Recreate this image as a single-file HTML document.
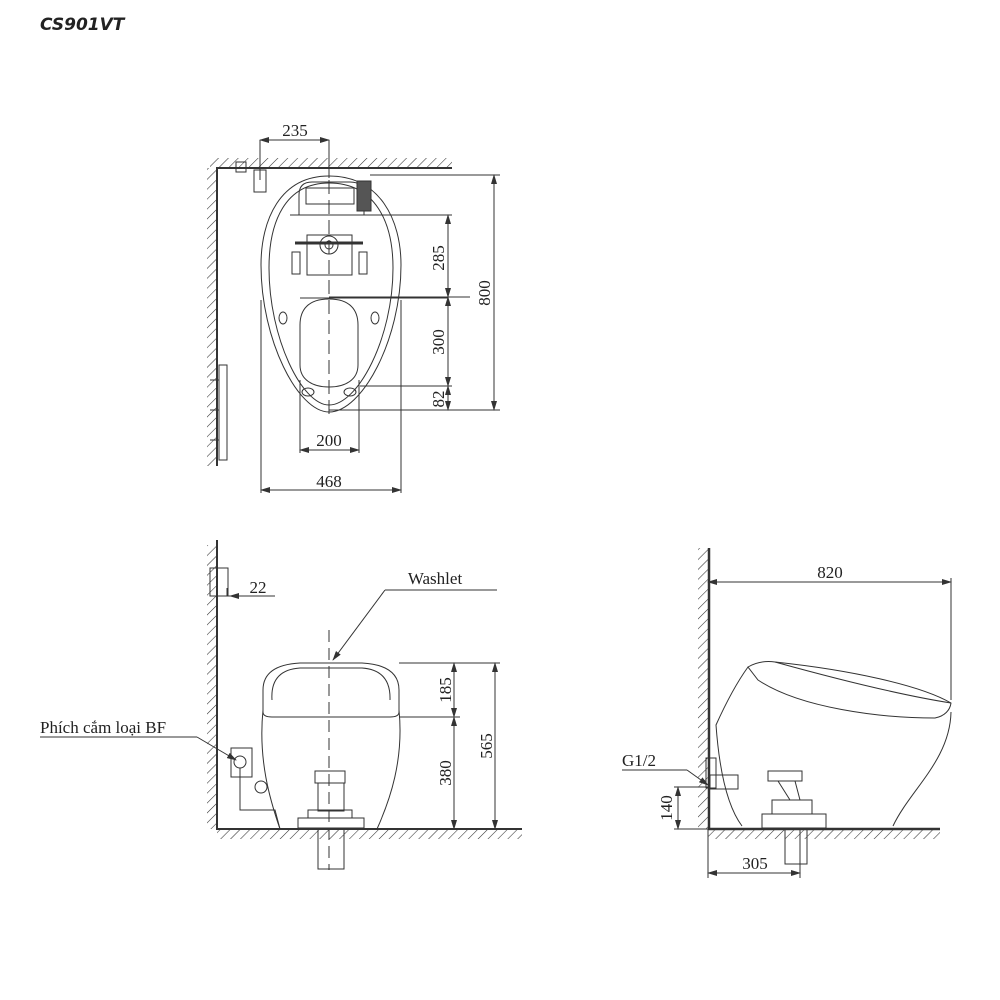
<!DOCTYPE html>
<html><head><meta charset="utf-8"><style>
body{margin:0;background:#fff;}
svg{display:block;}
text{font-family:"Liberation Serif",serif;fill:#222;}
</style></head><body>
<svg width="1000" height="1000" viewBox="0 0 1000 1000" xmlns="http://www.w3.org/2000/svg">
<defs>
<pattern id="h" width="7" height="7" patternUnits="userSpaceOnUse" patternTransform="rotate(45)">
<line x1="0" y1="0" x2="0" y2="7" stroke="#333" stroke-width="1.1"/></pattern>
<marker id="a" markerWidth="10" markerHeight="6" refX="9" refY="3" orient="auto-start-reverse" markerUnits="userSpaceOnUse"><path d="M0,0 L10,3 L0,6z" fill="#333"/></marker>
</defs>
<text x="40" y="30" style="font-family:'DejaVu Sans',sans-serif;font-weight:bold;font-style:italic;font-size:17px">CS901VT</text>

<g stroke="#333" fill="none" stroke-width="1">
<!-- TOP VIEW -->
<rect x="210" y="158" width="242" height="9" fill="url(#h)" stroke="none"/>
<rect x="207" y="168" width="10" height="298" fill="url(#h)" stroke="none"/>
<path d="M452,168 H217 V466" stroke-width="2"/>
<path d="M329,176 C280,176 261,220 261,265 C261,340 298,412 329,412 C362,412 401,340 401,265 C401,220 380,176 329,176Z"/>
<path d="M329,183 C285,183 269,222 269,268 C269,338 302,405 329,405 C358,405 393,338 393,268 C393,222 375,183 329,183Z"/>
<path d="M299,215 V195 Q299,182 312,182 H350 Q364,182 364,195 V215"/>
<rect x="306" y="188" width="48" height="16"/>
<rect x="357" y="181" width="14" height="30" fill="#555"/>
<path d="M290,215 H372"/>
<rect x="307" y="235" width="45" height="40"/>
<circle cx="329" cy="245" r="9"/><circle cx="329" cy="245" r="4"/>
<rect x="292" y="252" width="8" height="22"/><rect x="359" y="252" width="8" height="22"/>
<path d="M295,243 H363" stroke-width="3"/>
<path d="M300,298 H448"/>
<path d="M329,299 C350,299 358,310 358,325 V365 C358,380 345,387 329,387 C313,387 300,380 300,365 V325 C300,310 308,299 329,299Z"/>
<ellipse cx="283" cy="318" rx="4" ry="6"/><ellipse cx="375" cy="318" rx="4" ry="6"/>
<ellipse cx="308" cy="392" rx="6" ry="4"/><ellipse cx="350" cy="392" rx="6" ry="4"/>
<path d="M329,140 V420" stroke-dasharray="14,6"/>
<rect x="254" y="170" width="12" height="22"/><rect x="236" y="162" width="10" height="10"/>
<rect x="219" y="365" width="8" height="95"/><path d="M210,380 H219 M210,410 H219 M210,440 H219"/>
<!-- dims -->
<path d="M260,140 V180 M329,140 V178"/>
<line x1="260" y1="140" x2="329" y2="140" marker-start="url(#a)" marker-end="url(#a)"/>
<path d="M370,175 H500 M372,215 H452 M329,297 H470 M360,386 H452 M329,410 H500"/>
<line x1="494" y1="175" x2="494" y2="410" marker-start="url(#a)" marker-end="url(#a)"/>
<line x1="448" y1="215" x2="448" y2="297" marker-start="url(#a)" marker-end="url(#a)"/>
<line x1="448" y1="297" x2="448" y2="386" marker-start="url(#a)" marker-end="url(#a)"/>
<line x1="448" y1="386" x2="448" y2="410" marker-start="url(#a)" marker-end="url(#a)"/>
<path d="M300,380 V453 M359,380 V453 M261,300 V493 M401,300 V493"/>
<line x1="300" y1="450" x2="359" y2="450" marker-start="url(#a)" marker-end="url(#a)"/>
<line x1="261" y1="490" x2="401" y2="490" marker-start="url(#a)" marker-end="url(#a)"/>

<!-- FRONT VIEW -->
<rect x="207" y="545" width="10" height="284" fill="url(#h)" stroke="none"/>
<rect x="217" y="830" width="305" height="9" fill="url(#h)" stroke="none"/>
<path d="M217,540 V829 H522" stroke-width="2"/>
<path d="M263,690 Q263,665 300,663 H362 Q399,665 399,690 V712 Q399,717 390,717 H272 Q263,717 263,712Z"/>
<path d="M272,700 Q270,670 300,668 H362 Q391,670 390,700"/>
<path d="M263,710 C258,760 270,800 280,829 M399,710 C404,760 390,800 377,829"/>
<path d="M329,630 V870" stroke-dasharray="12,6"/>
<rect x="315" y="771" width="30" height="12"/><rect x="318" y="783" width="26" height="28"/>
<rect x="308" y="810" width="44" height="8"/><rect x="298" y="818" width="66" height="10"/>
<rect x="318" y="829" width="26" height="40"/>
<rect x="231" y="748" width="21" height="29"/><circle cx="240" cy="762" r="6"/>
<circle cx="261" cy="787" r="6"/>
<path d="M240,768 V810 H275 L280,829"/>
<rect x="210" y="568" width="18" height="28"/>
<path d="M227,588 V596 H275" /><line x1="245" y1="596" x2="230" y2="596" marker-end="url(#a)"/>
<path d="M385,590 H497"/><line x1="385" y1="590" x2="333" y2="660" marker-end="url(#a)"/>
<path d="M40,737 H197"/><line x1="197" y1="737" x2="236" y2="760" marker-end="url(#a)"/>
<path d="M399,663 H500 M399,717 H460"/>
<line x1="454" y1="663" x2="454" y2="717" marker-start="url(#a)" marker-end="url(#a)"/>
<line x1="454" y1="717" x2="454" y2="829" marker-start="url(#a)" marker-end="url(#a)"/>
<line x1="495" y1="663" x2="495" y2="829" marker-start="url(#a)" marker-end="url(#a)"/>

<!-- SIDE VIEW -->
<rect x="698" y="548" width="10" height="281" fill="url(#h)" stroke="none"/>
<rect x="708" y="830" width="232" height="9" fill="url(#h)" stroke="none"/>
<path d="M709,548 V829 H940" stroke-width="2.5"/>
<path d="M748,667 Q760,660 775,662 C850,670 920,685 951,703 C950,710 945,716 935,718 C880,718 800,708 758,680 Z"/>
<path d="M775,662 C840,680 900,695 951,703"/>
<path d="M748,667 C735,685 725,705 716,725 C720,780 730,810 742,826 M951,712 C950,760 910,790 893,826"/>
<rect x="710" y="775" width="28" height="14"/><rect x="706" y="758" width="10" height="30"/>
<rect x="768" y="771" width="34" height="10"/><rect x="772" y="800" width="40" height="14"/><rect x="762" y="814" width="64" height="14"/>
<path d="M778,781 L790,800 M795,781 L800,800"/>
<rect x="785" y="829" width="22" height="35"/>
<line x1="708" y1="582" x2="951" y2="582" marker-start="url(#a)" marker-end="url(#a)"/>
<path d="M951,578 V700"/>
<path d="M622,770 H687"/><line x1="687" y1="770" x2="708" y2="785" marker-end="url(#a)"/>
<path d="M674,787 H708 M674,829 H708"/>
<line x1="678" y1="787" x2="678" y2="829" marker-start="url(#a)" marker-end="url(#a)"/>
<path d="M708,829 V878 M800,829 V878"/>
<line x1="708" y1="873" x2="800" y2="873" marker-start="url(#a)" marker-end="url(#a)"/>
</g>

<g font-size="17">
<text x="295" y="136" text-anchor="middle">235</text>
<text x="329" y="446" text-anchor="middle">200</text>
<text x="329" y="487" text-anchor="middle">468</text>
<text transform="translate(490,293) rotate(-90)" text-anchor="middle">800</text>
<text transform="translate(444,258) rotate(-90)" text-anchor="middle">285</text>
<text transform="translate(444,342) rotate(-90)" text-anchor="middle">300</text>
<text transform="translate(444,399) rotate(-90)" text-anchor="middle">82</text>
<text x="258" y="593" text-anchor="middle">22</text>
<text x="435" y="584" text-anchor="middle">Washlet</text>
<text x="40" y="733">Phích cắm loại BF</text>
<text transform="translate(451,690) rotate(-90)" text-anchor="middle">185</text>
<text transform="translate(451,773) rotate(-90)" text-anchor="middle">380</text>
<text transform="translate(492,746) rotate(-90)" text-anchor="middle">565</text>
<text x="830" y="578" text-anchor="middle">820</text>
<text x="622" y="766">G1/2</text>
<text transform="translate(672,808) rotate(-90)" text-anchor="middle">140</text>
<text x="755" y="869" text-anchor="middle">305</text>
</g>
</svg>
</body></html>
